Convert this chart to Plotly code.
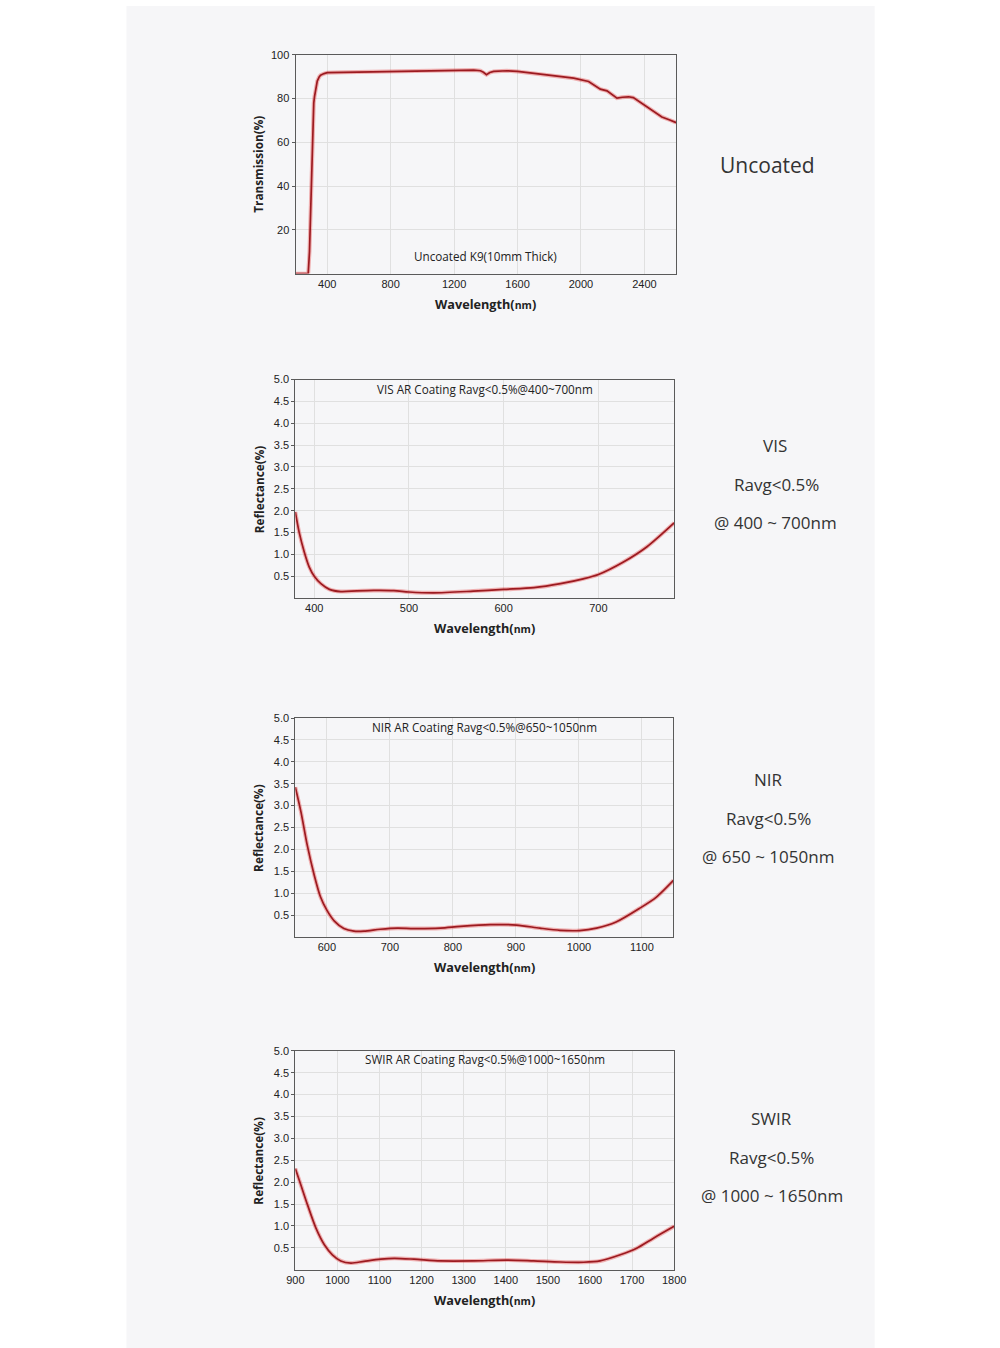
import plotly.graph_objects as go

# Uncoated K9 transmission
unc_wl = [200, 250, 280, 288, 295, 300, 305, 310, 315, 320, 330, 337, 350, 358, 380, 400, 500, 600, 700,
          860, 868, 1000, 1200, 1324, 1366, 1385, 1404, 1425, 1450, 1500, 1534, 1600, 1744, 1850, 1954,
          2048, 2085, 2122, 2164, 2195, 2227, 2260, 2300, 2330, 2353, 2400, 2437, 2475, 2510, 2560, 2600]
unc_t = [0, 0, 0, 10, 30, 45, 60, 72, 78, 81, 86, 88, 90, 90.7, 91.4, 91.8, 92.0, 92.1, 92.2,
         92.4, 92.7, 92.8, 92.9, 93.0, 92.7, 92.0, 90.9, 91.9, 92.4, 92.6, 92.7, 92.4, 91.2, 90.4, 89.3,
         87.8, 86.2, 84.3, 83.5, 81.8, 80.2, 80.6, 80.8, 80.4, 79.3, 77.2, 75.2, 73.3, 71.6, 70.2, 69.0]

# VIS AR coating reflectance
vis_wl = [380, 384, 389.5, 394.7, 400, 407, 416, 428, 445, 463, 484, 500, 526, 568, 600, 632, 660, 684, 700, 726, 751, 780]
vis_r = [1.97, 1.51, 1.05, 0.71, 0.50, 0.33, 0.20, 0.15, 0.165, 0.175, 0.17, 0.14, 0.12, 0.16, 0.20, 0.24, 0.33, 0.44, 0.54, 0.82, 1.17, 1.72]

# NIR AR coating reflectance
nir_wl = [550, 559, 569, 580, 590, 600, 612, 627, 643, 659, 685, 712, 738, 780, 812, 859, 901, 938, 970, 1001, 1028, 1059, 1096, 1123, 1150]
nir_r = [3.42, 2.85, 2.09, 1.41, 0.91, 0.61, 0.36, 0.19, 0.13, 0.13, 0.175, 0.20, 0.19, 0.20, 0.24, 0.28, 0.27, 0.20, 0.15, 0.145, 0.20, 0.34, 0.65, 0.91, 1.29]

# SWIR AR coating reflectance
swir_wl = [900, 913, 929, 949, 969, 988, 1008, 1032, 1063, 1103, 1135, 1182, 1245, 1324, 1403, 1466, 1530, 1585, 1624, 1672, 1711, 1751, 1800]
swir_r = [2.31, 1.94, 1.48, 0.95, 0.57, 0.34, 0.20, 0.15, 0.19, 0.24, 0.26, 0.24, 0.20, 0.20, 0.22, 0.20, 0.175, 0.17, 0.20, 0.34, 0.49, 0.72, 0.99]

refl_ticks = [0.5, 1.0, 1.5, 2.0, 2.5, 3.0, 3.5, 4.0, 4.5, 5.0]

W, H = 1000, 1348
CORE = "#9c1a20"
HALO = "rgba(225,45,45,0.35)"
GRID = "#e0e0e0"
FRAME = "#5a5a5a"
BG = "#f6f6f8"
TICKFONT = dict(family="Liberation Sans, Arial", size=11, color="#222")


# screen pixel -> paper fraction (small correction for how the page gets photographed)
def fx(px):
    return (px - 7.3) / 0.9813 / W


def fy(px):
    return 1 - (px - 5.2) / 0.9962 / H


panels = [
    # pixel box is (left, top, right, bottom) of the plot frame
    dict(xr=[200, 2600], yr=[0, 100], xt=[400, 800, 1200, 1600, 2000, 2400], yt=[20, 40, 60, 80, 100],
         fmt=None, ylab="Transmission(%)", title="Uncoated K9(10mm Thick)", title_y=255,
         x=unc_wl, y=unc_t, shape="linear", box=(294.5, 54, 676, 273),
         side=[("Uncoated", 768, 164, 21)]),
    dict(xr=[380, 780], yr=[0, 5], xt=[400, 500, 600, 700], yt=refl_ticks, fmt=".1f",
         ylab="Reflectance(%)", title="VIS AR Coating Ravg<0.5%@400~700nm", title_y=388,
         x=vis_wl, y=vis_r, shape="spline", box=(294.3, 379, 674, 597.7),
         side=[("VIS", 775, 445, 17), ("Ravg<0.5%", 777, 484, 17), ("@ 400 ~ 700nm", 776, 522, 17)]),
    dict(xr=[550, 1150], yr=[0, 5], xt=[600, 700, 800, 900, 1000, 1100], yt=refl_ticks, fmt=".1f",
         ylab="Reflectance(%)", title="NIR AR Coating Ravg<0.5%@650~1050nm", title_y=727,
         x=nir_wl, y=nir_r, shape="spline", box=(294.3, 717.7, 673.3, 936.7),
         side=[("NIR", 769, 779, 17), ("Ravg<0.5%", 769, 818, 17), ("@ 650 ~ 1050nm", 768, 856, 17)]),
    dict(xr=[900, 1800], yr=[0, 5], xt=list(range(900, 1801, 100)), yt=refl_ticks, fmt=".1f",
         ylab="Reflectance(%)", title="SWIR AR Coating Ravg<0.5%@1000~1650nm", title_y=1059,
         x=swir_wl, y=swir_r, shape="spline", box=(294.3, 1050.7, 674, 1269.7),
         side=[("SWIR", 772, 1118, 17), ("Ravg<0.5%", 772, 1157, 17), ("@ 1000 ~ 1650nm", 772, 1195, 17)]),
]

fig = go.Figure()

# gray page panel
fig.add_shape(type="rect", xref="paper", yref="paper", x0=fx(125), x1=fx(875), y0=0, y1=1,
              fillcolor=BG, line=dict(width=0), layer="below")

for i, p in enumerate(panels, start=1):
    xa = "x" if i == 1 else f"x{i}"
    ya = "y" if i == 1 else f"y{i}"
    l, t, r, b = p["box"]
    # soft halo under the curve, then the dark core
    fig.add_trace(go.Scatter(x=p["x"], y=p["y"], mode="lines", xaxis=xa, yaxis=ya,
                             line=dict(color=HALO, width=4, shape=p["shape"], smoothing=0.8),
                             showlegend=False, hoverinfo="skip"))
    fig.add_trace(go.Scatter(x=p["x"], y=p["y"], mode="lines", xaxis=xa, yaxis=ya,
                             line=dict(color=CORE, width=1.7, shape=p["shape"], smoothing=0.8),
                             showlegend=False, hoverinfo="skip"))
    xkey = "xaxis" if i == 1 else f"xaxis{i}"
    ykey = "yaxis" if i == 1 else f"yaxis{i}"
    fig.layout[xkey] = dict(domain=[fx(l), fx(r)], anchor=ya, range=p["xr"], tickvals=p["xt"],
                            showgrid=True, gridcolor=GRID, gridwidth=1, zeroline=False,
                            showline=True, linecolor=FRAME, linewidth=1, mirror=True,
                            ticks="", tickfont=TICKFONT, fixedrange=True)
    fig.layout[ykey] = dict(domain=[fy(b), fy(t)], anchor=xa, range=p["yr"], tickvals=p["yt"],
                            tickformat=p["fmt"], showgrid=True, gridcolor=GRID, gridwidth=1,
                            zeroline=False, showline=True, linecolor=FRAME, linewidth=1, mirror=True,
                            ticks="outside", ticklen=3, tickcolor=FRAME, tickfont=TICKFONT,
                            fixedrange=True)
    # plot background
    fig.add_shape(type="rect", xref="paper", yref="paper", x0=fx(l), x1=fx(r), y0=fy(b), y1=fy(t),
                  fillcolor=BG, line=dict(width=0), layer="below")
    # inside title
    fig.add_annotation(text=p["title"], xref="paper", yref="paper", x=fx((l + r) / 2),
                       y=fy(p["title_y"]), showarrow=False, xanchor="center", yanchor="middle",
                       font=dict(family="Open Sans", size=11.7, color="#222"))
    # axis titles
    fig.add_annotation(text="<b>Wavelength(<span style='font-size:10.5px'>nm</span>)</b>",
                       xref="paper", yref="paper", x=fx((l + r) / 2), y=fy(b + 30),
                       showarrow=False, xanchor="center", yanchor="middle",
                       font=dict(family="Open Sans", size=12.7, color="#222"))
    fig.add_annotation(text=f"<b>{p['ylab']}</b>", xref="paper", yref="paper",
                       x=fx(l - 37), y=fy((t + b) / 2), textangle=-90, showarrow=False,
                       xanchor="center", yanchor="middle",
                       font=dict(family="Open Sans", size=11.8, color="#222"))
    # side labels
    for txt, sx, sy, fs in p["side"]:
        fig.add_annotation(text=txt, xref="paper", yref="paper", x=fx(sx), y=fy(sy),
                           showarrow=False, xanchor="center", yanchor="middle",
                           font=dict(family="Open Sans", size=fs, color="#333"))

fig.update_layout(width=W, height=H, margin=dict(l=0, r=0, t=0, b=0),
                  paper_bgcolor="white", plot_bgcolor="rgba(0,0,0,0)", showlegend=False)

fig.write_html(
    "out.html",
    config={"displayModeBar": False},
    post_script="document.body.style.margin='0';document.body.style.overflow='hidden';",
)
